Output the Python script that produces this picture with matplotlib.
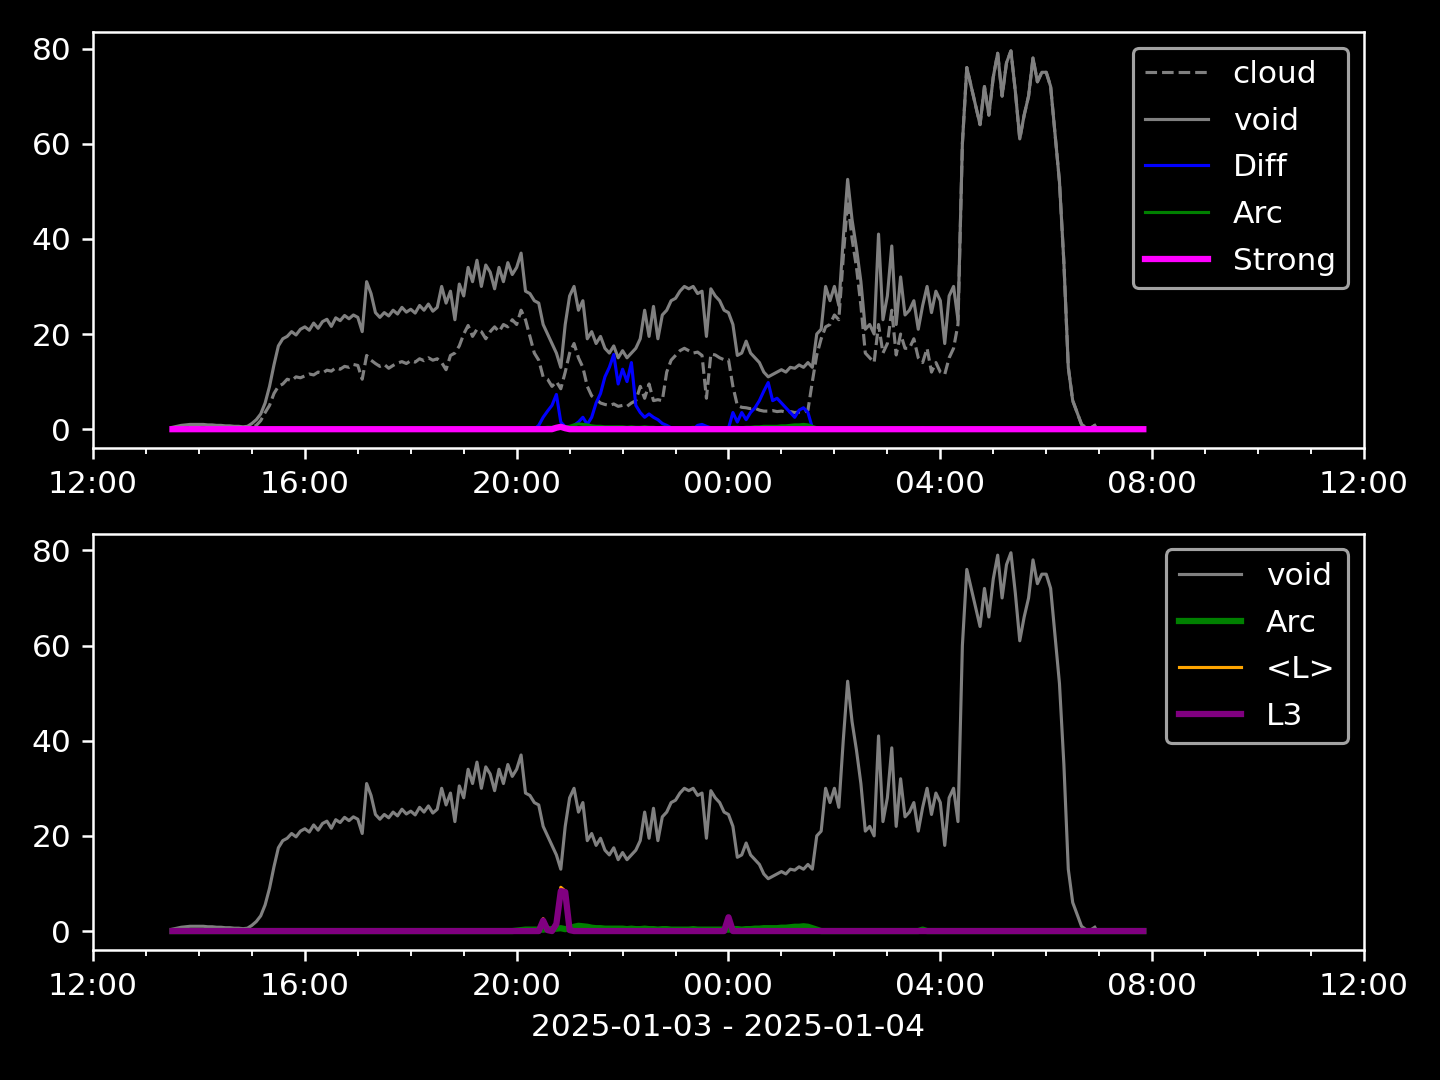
import numpy as np
import pandas as pd
import matplotlib
matplotlib.use('Agg')
import matplotlib.pyplot as plt
import matplotlib.dates as mdates

# 5-minute samples, 2025-01-03 13:30 .. 2025-01-04 07:50
times = pd.date_range('2025-01-03 13:30', periods=221, freq='5min')

# void / cloud stop at 06:55 (first 210 samples)
void = [
    0.4, 0.6, 0.8, 0.9, 1.0, 1.0,
    1.0, 1.0, 0.9, 0.9, 0.8, 0.8, 0.7, 0.7, 0.6, 0.6, 0.5, 0.6,            # 14h
    1.2, 2.0, 3.2, 5.5, 9.0, 13.5, 17.5, 19.0, 19.5, 20.5, 19.8, 21.0,     # 15h
    21.5, 20.8, 22.3, 21.2, 22.6, 23.1, 21.6, 23.4, 22.8, 23.9, 23.2, 24.0,  # 16h
    23.5, 20.5, 31.0, 28.5, 24.5, 23.5, 24.5, 23.8, 25.0, 24.2, 25.6, 24.6,  # 17h
    25.2, 24.4, 26.0, 25.0, 26.3, 24.8, 25.6, 30.0, 26.5, 29.0, 23.0, 30.5,  # 18h
    28.0, 34.0, 31.0, 35.5, 30.0, 34.5, 33.0, 29.5, 34.0, 31.0, 35.0, 32.5,  # 19h
    34.0, 37.0, 29.0, 28.5, 27.0, 26.5, 22.0, 20.0, 18.0, 16.0, 13.0, 22.0,  # 20h
    28.0, 30.0, 25.0, 27.0, 19.0, 20.5, 18.0, 19.5, 17.0, 16.0, 17.5, 15.0,  # 21h
    16.5, 15.0, 16.0, 17.0, 19.0, 25.0, 19.5, 25.8, 19.0, 24.0, 25.0, 27.0,  # 22h
    27.5, 29.0, 30.0, 29.5, 30.0, 28.5, 29.0, 19.5, 29.5, 28.0, 27.0, 25.0,  # 23h
    24.5, 22.0, 15.5, 16.0, 18.5, 16.0, 15.0, 14.0, 12.0, 11.0, 11.5, 12.0,  # 00h
    12.5, 12.0, 13.0, 12.8, 13.5, 13.0, 14.0, 13.0, 20.0, 21.0, 30.0, 27.0,  # 01h
    30.0, 26.0, 40.0, 52.5, 44.0, 38.0, 31.0, 21.0, 22.0, 20.0, 41.0, 23.0,  # 02h
    28.0, 38.5, 22.0, 32.0, 24.0, 25.0, 27.0, 21.0, 26.0, 30.0, 24.5, 29.0,  # 03h
    27.0, 18.0, 28.0, 30.0, 23.0, 60.0, 76.0, 72.0, 68.0, 64.0, 72.0, 66.0,  # 04h
    74.0, 79.0, 70.0, 77.0, 79.5, 71.0, 61.0, 66.0, 70.0, 78.0, 73.0, 75.0,  # 05h
    75.0, 72.0, 62.0, 52.0, 35.0, 13.0, 6.0, 3.5, 1.0, 0.3, 0.2, 0.8,       # 06h
]

cloud = [
    0.3, 0.4, 0.5, 0.6, 0.6, 0.6,
    0.6, 0.6, 0.5, 0.5, 0.4, 0.4, 0.3, 0.3, 0.2, 0.2, 0.2, 0.2,
    0.3, 0.8, 1.8, 3.5, 5.0, 7.5, 9.0, 9.5, 10.5, 10.2, 11.0, 10.8,
    11.2, 11.6, 11.4, 12.0, 11.8, 12.4, 12.2, 12.9, 12.6, 13.2, 13.0, 13.6,
    13.4, 10.5, 15.5, 14.5, 13.8, 13.2, 13.6, 12.8, 13.4, 13.9, 14.2, 13.8,
    14.4, 14.1, 14.8, 14.4, 15.0, 14.5, 14.8, 14.0, 12.5, 15.5, 16.0, 17.5,
    20.0, 21.8, 19.5, 21.0, 20.5, 19.0, 20.5, 21.5, 20.5, 22.0, 21.5, 23.0,
    22.0, 25.0, 23.0, 19.5, 16.0, 14.5, 11.0, 10.5, 9.0, 10.0, 8.5, 12.0,
    16.0, 18.0, 15.0, 13.0, 9.0, 7.0, 6.3, 5.5, 5.2, 5.0, 5.3, 4.8,
    5.0, 4.8, 5.5, 6.0, 9.0, 6.5, 9.5, 6.0, 6.2, 6.0, 12.0, 14.5,
    15.5, 16.5, 17.0, 16.5, 16.0, 16.2, 15.5, 6.5, 15.8, 15.6, 15.0, 14.6,
    14.6, 9.0, 5.0, 4.6, 4.5, 4.3, 4.4, 4.0, 3.8, 3.8, 3.9, 3.7,
    3.8, 3.6, 3.7, 3.5, 3.6, 3.5, 4.0, 10.0, 15.6, 19.0, 21.5, 22.0,
    24.0, 23.0, 36.0, 48.0, 40.0, 34.0, 26.0, 16.0, 15.0, 14.0, 22.0, 16.0,
    18.0, 25.0, 15.6, 20.0, 17.0, 17.0, 19.0, 15.0, 14.0, 17.0, 12.0, 14.0,
    12.0, 11.5, 15.0, 17.0, 22.0, 60.0, 76.0, 72.0, 68.0, 64.0, 72.0, 66.0,
    74.0, 79.0, 70.0, 77.0, 79.5, 71.0, 61.0, 66.0, 70.0, 78.0, 73.0, 75.0,
    75.0, 72.0, 62.0, 52.0, 35.0, 13.0, 6.0, 3.5, 1.0, 0.3, 0.2, 0.8,
]

# Diff, active 20:20 .. 01:40
diff_active = [
    0.0, 0.8, 2.5, 3.8, 5.0, 7.3, 1.5, 0.5,
    0.3, 0.8, 1.5, 2.5, 1.0, 2.5, 5.5, 7.5, 11.0, 13.0, 15.7, 9.5,
    12.6, 10.0, 14.0, 5.0, 3.5, 2.5, 3.2, 2.5, 2.0, 1.2, 0.8, 0.3,
    0.0, 0.0, 0.0, 0.0, 0.0, 0.8, 1.0, 0.6, 0.3, 0.0, 0.0, 0.0,
    0.2, 3.5, 1.5, 3.5, 2.0, 3.5, 4.5, 6.0, 8.0, 9.8, 6.0, 6.5,
    5.5, 4.5, 3.5, 2.5, 4.0, 4.5, 3.5, 0.3, 0.0,
]
diff = [0.0] * 82 + diff_active + [0.0] * 74

# Arc, active 20:00 .. 01:45
arc_active = [
    0.1, 0.2, 0.3, 0.3, 0.3, 0.3, 0.3, 0.4, 0.4, 0.5, 0.6, 0.4,
    0.6, 0.9, 1.1, 1.0, 0.9, 0.7, 0.6, 0.6, 0.5, 0.5, 0.5, 0.5,
    0.5, 0.4, 0.5, 0.4, 0.4, 0.5, 0.4, 0.4, 0.3, 0.4, 0.4, 0.3,
    0.3, 0.3, 0.3, 0.3, 0.4, 0.3, 0.3, 0.3, 0.3, 0.3, 0.3, 0.3,
    0.3, 0.4, 0.4, 0.3, 0.4, 0.4, 0.5, 0.5, 0.6, 0.6, 0.6, 0.6,
    0.7, 0.7, 0.8, 0.9, 0.9, 1.0, 0.9, 0.6, 0.3, 0.0,
]
arc = [0.0] * 78 + arc_active + [0.0] * 22 + [0.3] + [0.0] * 50

strong = [0.0] * 87 + [0.3, 0.5, 0.2] + [0.0] * 131

# L3 / <L>: peaks at 20:30, 20:50 and 00:00
l3 = [0.0] * 84 + [2.2, 0.2, 0.0, 1.5, 8.4, 8.2, 0.2] + [0.0] * 35 + [2.9] + [0.0] * 94
l_mean = [0.0] * 84 + [2.6, 0.2, 0.0, 1.8, 9.2, 8.4, 0.2] + [0.0] * 35 + [3.0] + [0.0] * 94

x_start = pd.Timestamp('2025-01-03 12:00')
x_end = pd.Timestamp('2025-01-04 12:00')
xlabel = '2025-01-03 - 2025-01-04'


def style_time_axis(ax):
    ax.set_xlim(x_start, x_end)
    ax.xaxis.set_major_locator(mdates.HourLocator(byhour=range(0, 24, 4)))
    ax.xaxis.set_minor_locator(mdates.HourLocator())
    ax.xaxis.set_major_formatter(mdates.DateFormatter('%H:%M'))


def main():
    plt.style.use('dark_background')
    fig, (ax1, ax2) = plt.subplots(2, 1, figsize=(6.4, 4.8), dpi=225)
    fig.subplots_adjust(left=0.0646, right=0.9472, top=0.9704, bottom=0.1204, hspace=0.206)

    t_void = times[:len(void)]

    # Top panel
    ax1.plot(t_void, cloud, color='gray', linestyle='--', linewidth=1, label='cloud')
    ax1.plot(t_void, void, color='gray', linewidth=1, label='void')
    ax1.plot(times, diff, color='blue', linewidth=1, label='Diff')
    ax1.plot(times, arc, color='green', linewidth=1, label='Arc')
    ax1.plot(times, strong, color='magenta', linewidth=2, label='Strong')
    ax1.legend(loc='upper right', labelspacing=0.565)
    style_time_axis(ax1)

    # Bottom panel
    ax2.plot(t_void, void, color='gray', linewidth=1, label='void')
    ax2.plot(times, arc, color='green', linewidth=2, label='Arc')
    ax2.plot(times, l_mean, color='orange', linewidth=1, label='<L>')
    ax2.plot(times, l3, color='purple', linewidth=2, label='L3')
    ax2.legend(loc='upper right', labelspacing=0.565)
    style_time_axis(ax2)
    ax2.set_xlabel(xlabel)

    fig.savefig('out.png', dpi=225)


if __name__ == '__main__':
    main()
